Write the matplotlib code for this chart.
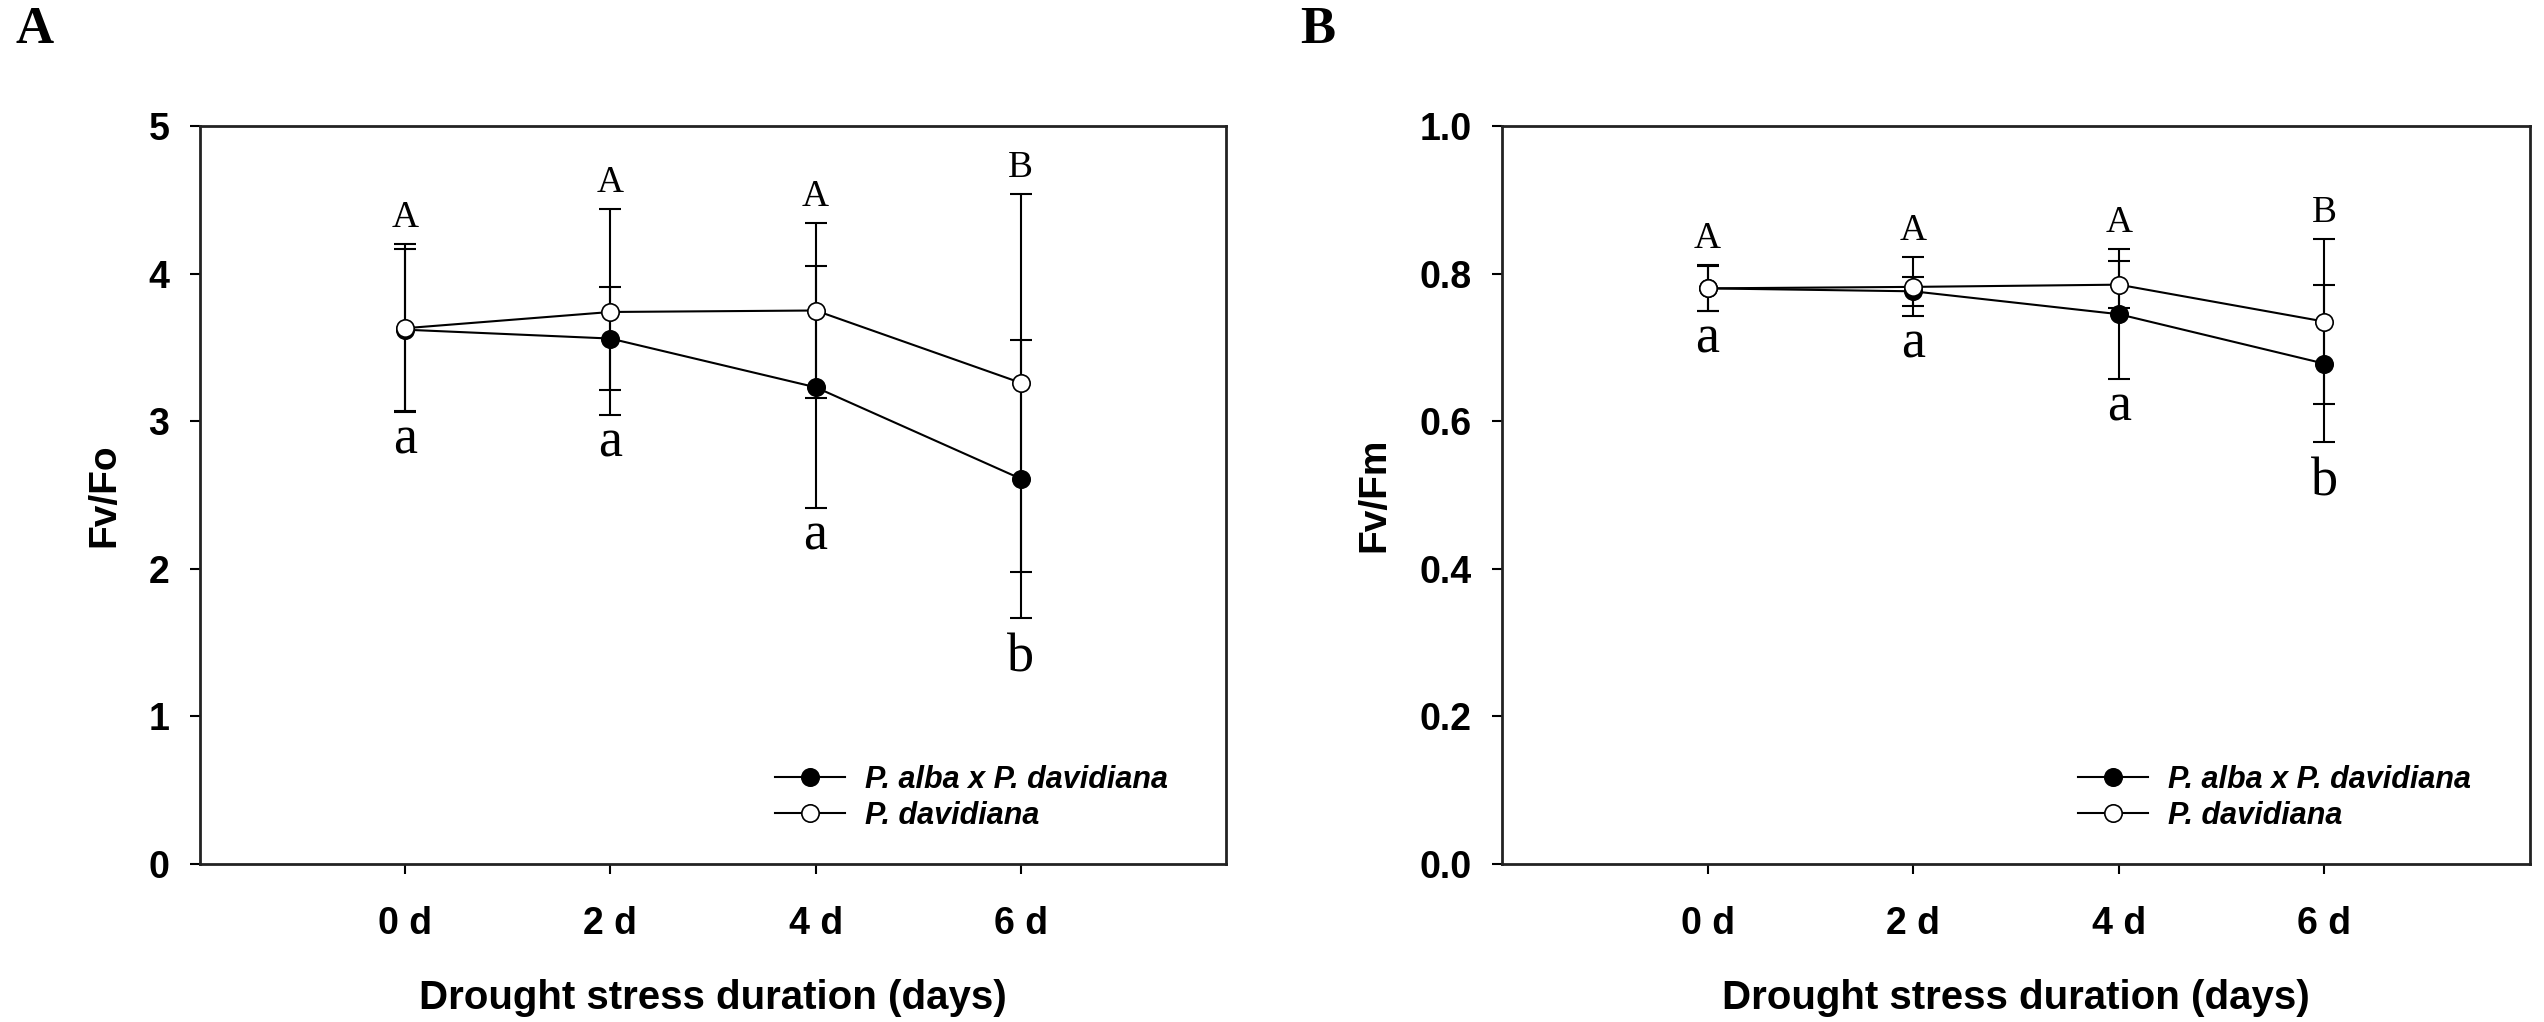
import matplotlib
matplotlib.use("Agg")
import matplotlib.pyplot as plt
from matplotlib.textpath import TextPath
from matplotlib.font_manager import FontProperties
import numpy as np

# data
days = ["0 d", "2 d", "4 d", "6 d"]
series_names = ["P. alba x P. davidiana", "P. davidiana"]

hyb_fvfo = [3.62, 3.56, 3.23, 2.61]
hyb_fvfo_err = [0.55, 0.35, 0.82, 0.94]
dav_fvfo = [3.63, 3.74, 3.75, 3.26]
dav_fvfo_err = [0.57, 0.70, 0.59, 1.28]

hyb_fvfm = [0.780, 0.776, 0.745, 0.678]
hyb_fvfm_err = [0.031, 0.020, 0.088, 0.106]
dav_fvfm = [0.780, 0.782, 0.785, 0.735]
dav_fvfm_err = [0.030, 0.040, 0.032, 0.112]

upper_letters = ["A", "A", "A", "B"]
lower_letters = ["a", "a", "a", "b"]

SANS = "Liberation Sans"
SERIF = "Liberation Serif"
DPI = 100
PX = 72 / DPI  # pixels -> points


def glyph_top(letter, size):
    tp = TextPath((0, 0), letter, size=size, prop=FontProperties(family=SERIF))
    return tp.get_extents().y1  # in points


def panel(ax, hyb, hyb_err, dav, dav_err, ylim, yticks, yfmt, ylabel):
    x = np.arange(len(days))
    hyb = np.array(hyb); hyb_err = np.array(hyb_err)
    dav = np.array(dav); dav_err = np.array(dav_err)

    for y, e in ((hyb, hyb_err), (dav, dav_err)):
        ax.errorbar(x, y, yerr=e, fmt="none", ecolor="black", elinewidth=1.5,
                    capsize=8, capthick=1.5, zorder=2)
    ax.plot(x, hyb, "-o", color="black", lw=1.5, ms=12.5, mfc="black",
            mec="black", mew=1.2, label=series_names[0], zorder=3)
    ax.plot(x, dav, "-o", color="black", lw=1.5, ms=12.5, mfc="white",
            mec="black", mew=1.2, label=series_names[1], zorder=4)

    top = np.maximum(hyb + hyb_err, dav + dav_err)
    bot = np.minimum(hyb - hyb_err, dav - dav_err)
    for i in range(len(days)):
        ax.annotate(upper_letters[i], (x[i], top[i]), xytext=(0, 17 * PX),
                    textcoords="offset points", ha="center", va="baseline",
                    fontsize=27, family=SERIF)
        h = glyph_top(lower_letters[i], 39)
        ax.annotate(lower_letters[i], (x[i], bot[i]), xytext=(0, -16 * PX - h),
                    textcoords="offset points", ha="center", va="baseline",
                    fontsize=39, family=SERIF)

    ax.set_xlim(-1, 4)
    ax.set_ylim(*ylim)
    ax.set_xticks(x)
    ax.set_xticklabels(days)
    ax.set_yticks(yticks)
    ax.set_yticklabels([yfmt.format(v) for v in yticks])
    for lab in ax.get_xticklabels() + ax.get_yticklabels():
        lab.set_family(SANS)
        lab.set_fontweight("bold")
        lab.set_fontsize(27)
    ax.tick_params(axis="both", direction="out", length=7, width=1.5,
                   top=False, right=False)
    ax.tick_params(axis="y", pad=15)
    ax.tick_params(axis="x", pad=23)
    for s in ax.spines.values():
        s.set_linewidth(2.0)
        s.set_color("#222222")

    ax.set_xlabel("Drought stress duration (days)", family=SANS,
                  fontweight="bold", fontsize=29, labelpad=27)
    ax.set_ylabel(ylabel, family=SANS, fontweight="bold", fontsize=28,
                  labelpad=19)

    ax.legend(loc="lower left", bbox_to_anchor=(0.56, 0.045), frameon=False,
              prop=FontProperties(family=SANS, weight="bold", style="italic",
                                  size=22),
              handlelength=2.3, handletextpad=0.65, labelspacing=0.2,
              borderpad=0, borderaxespad=0)


fig = plt.figure(figsize=(2544 / DPI, 1022 / DPI), dpi=DPI)
ax1 = fig.add_axes([200 / 2544, 158 / 1022, 1026 / 2544, 738 / 1022])
ax2 = fig.add_axes([1502 / 2544, 158 / 1022, 1028 / 2544, 738 / 1022])

panel(ax1, hyb_fvfo, hyb_fvfo_err, dav_fvfo, dav_fvfo_err,
      (0, 5), [0, 1, 2, 3, 4, 5], "{:.0f}", "Fv/Fo")
panel(ax2, hyb_fvfm, hyb_fvfm_err, dav_fvfm, dav_fvfm_err,
      (0, 1.0), [0.0, 0.2, 0.4, 0.6, 0.8, 1.0], "{:.1f}", "Fv/Fm")

fig.text(15 / 2544, 1 - 43 / 1022, "A", family=SERIF, fontweight="bold",
         fontsize=38, va="baseline", ha="left")
fig.text(1300 / 2544, 1 - 43 / 1022, "B", family=SERIF, fontweight="bold",
         fontsize=38, va="baseline", ha="left")

fig.savefig("out.png", dpi=DPI, facecolor="white")
